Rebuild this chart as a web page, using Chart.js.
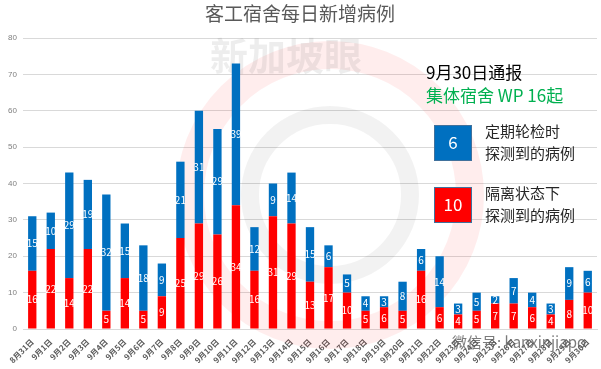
<!DOCTYPE html>
<html>
<head>
<meta charset="utf-8">
<script src="https://cdn.jsdelivr.net/npm/chart.js@4"></script>
<style>
  body { margin: 0; background: #fff; }
  #wrap { width: 601px; height: 369px; }
</style>
</head>
<body>
<div id="wrap"><canvas id="workerChart"></canvas></div>
<script>
// dates 8/31 - 9/30
const days = ["8月31日"];
for (let d = 1; d <= 30; d++) days.push("9月" + d + "日");

// 隔离状态下探测到的病例 (red, bottom)
const isolated = [16,22,14,22,5,14,5,9,25,29,26,34,16,31,29,13,17,10,5,6,5,16,6,4,5,7,7,6,4,8,10];
// 定期轮检时探测到的病例 (blue, top)
const routine = [15,10,29,19,32,15,18,9,21,31,29,39,12,9,14,15,6,5,4,3,8,6,14,3,5,2,7,4,3,9,6];

const yTicks = [0,10,20,30,40,50,60,70,80];

const fontCN = "'Noto Sans CJK SC', 'Noto Sans', sans-serif";

// faint logo behind the bars
const watermark = {
  id: "watermark",
  beforeDatasetsDraw(chart) {
    const ctx = chart.ctx;
    ctx.save();
    ctx.strokeStyle = "rgba(255,0,0,0.07)";
    ctx.lineWidth = 28;
    ctx.beginPath();
    ctx.arc(330, 195, 140, 0, Math.PI * 2);
    ctx.stroke();
    ctx.strokeStyle = "rgba(0,0,0,0.05)";
    ctx.lineWidth = 18;
    ctx.beginPath();
    ctx.arc(330, 195, 80, 0, Math.PI * 2);
    ctx.stroke();
    ctx.fillStyle = "rgba(0,0,0,0.07)";
    ctx.font = "bold 38px " + fontCN;
    ctx.textBaseline = "middle";
    ctx.fillText("新加坡眼", 210, 56);
    ctx.restore();
  }
};

// white numbers inside each bar segment
const segLabels = {
  id: "segLabels",
  afterDatasetsDraw(chart) {
    const ctx = chart.ctx;
    ctx.save();
    ctx.fillStyle = "#fff";
    ctx.font = "10px " + fontCN;
    ctx.textAlign = "center";
    ctx.textBaseline = "middle";
    chart.data.datasets.forEach((ds, i) => {
      chart.getDatasetMeta(i).data.forEach((bar, j) => {
        const mid = (bar.y + bar.base) / 2;
        ctx.fillText(ds.data[j], bar.x, mid);
      });
    });
    ctx.restore();
  }
};

// title + note box on the right
const notes = {
  id: "notes",
  afterDraw(chart) {
    const ctx = chart.ctx;
    ctx.save();
    ctx.textBaseline = "middle";
    ctx.textAlign = "center";
    ctx.fillStyle = "#595959";
    ctx.font = "19px " + fontCN;
    ctx.fillText("客工宿舍每日新增病例", 300, 14);

    ctx.textAlign = "left";
    ctx.fillStyle = "#000";
    ctx.font = "17px " + fontCN;
    ctx.fillText("9月30日通报", 426, 73);
    ctx.fillStyle = "#00b050";
    ctx.fillText("集体宿舍 WP 16起", 426, 96);

    // blue box
    ctx.fillStyle = "#0070c0";
    ctx.fillRect(434, 125, 37, 35);
    ctx.strokeStyle = "#41719c";
    ctx.lineWidth = 1;
    ctx.strokeRect(434.5, 125.5, 37, 35);
    // red box
    ctx.fillStyle = "#ff0000";
    ctx.fillRect(434, 187, 37, 35);
    ctx.strokeRect(434.5, 187.5, 37, 35);

    ctx.textAlign = "center";
    ctx.fillStyle = "#fff";
    ctx.font = "17px " + fontCN;
    ctx.fillText("6", 453, 143);
    ctx.fillText("10", 453, 205);

    ctx.textAlign = "left";
    ctx.fillStyle = "#262626";
    ctx.font = "15px " + fontCN;
    ctx.fillText("定期轮检时", 485, 131);
    ctx.fillText("探测到的病例", 485, 153);
    ctx.fillText("隔离状态下", 485, 193);
    ctx.fillText("探测到的病例", 485, 215);

    ctx.fillStyle = "rgba(90,90,90,0.8)";
    ctx.font = "15px " + fontCN;
    ctx.fillText("微信号: kanxinjiapo", 452, 342);
    ctx.restore();
  }
};

new Chart("workerChart", {
  type: "bar",
  data: {
    labels: days,
    datasets: [
      {
        label: "隔离状态下探测到的病例",
        data: isolated,
        backgroundColor: "#ff0000",
        barPercentage: 0.45,
        categoryPercentage: 1
      },
      {
        label: "定期轮检时探测到的病例",
        data: routine,
        backgroundColor: "#0070c0",
        barPercentage: 0.45,
        categoryPercentage: 1
      }
    ]
  },
  options: {
    responsive: true,
    maintainAspectRatio: false,
    animation: false,
    layout: { padding: { top: 38, right: 4, left: 0, bottom: 0 } },
    plugins: {
      legend: { display: false },
      tooltip: { enabled: false }
    },
    scales: {
      x: {
        stacked: true,
        grid: { display: false },
        border: { color: "#d9d9d9" },
        ticks: {
          color: "#595959",
          font: { size: 8, weight: "bold", family: fontCN },
          maxRotation: 45,
          minRotation: 45,
          autoSkip: false,
          padding: 0
        },
        afterFit(s) { s.height = 40; }
      },
      y: {
        stacked: true,
        min: 0,
        max: 80,
        afterBuildTicks(s) { s.ticks = yTicks.map(v => ({ value: v })); },
        grid: { color: "#d9d9d9", drawTicks: false },
        border: { display: false },
        ticks: {
          color: "#7f7f7f",
          font: { size: 8 },
          padding: 6
        },
        afterFit(s) { s.width = 23; }
      }
    }
  },
  plugins: [watermark, segLabels, notes]
});
</script>
</body>
</html>
